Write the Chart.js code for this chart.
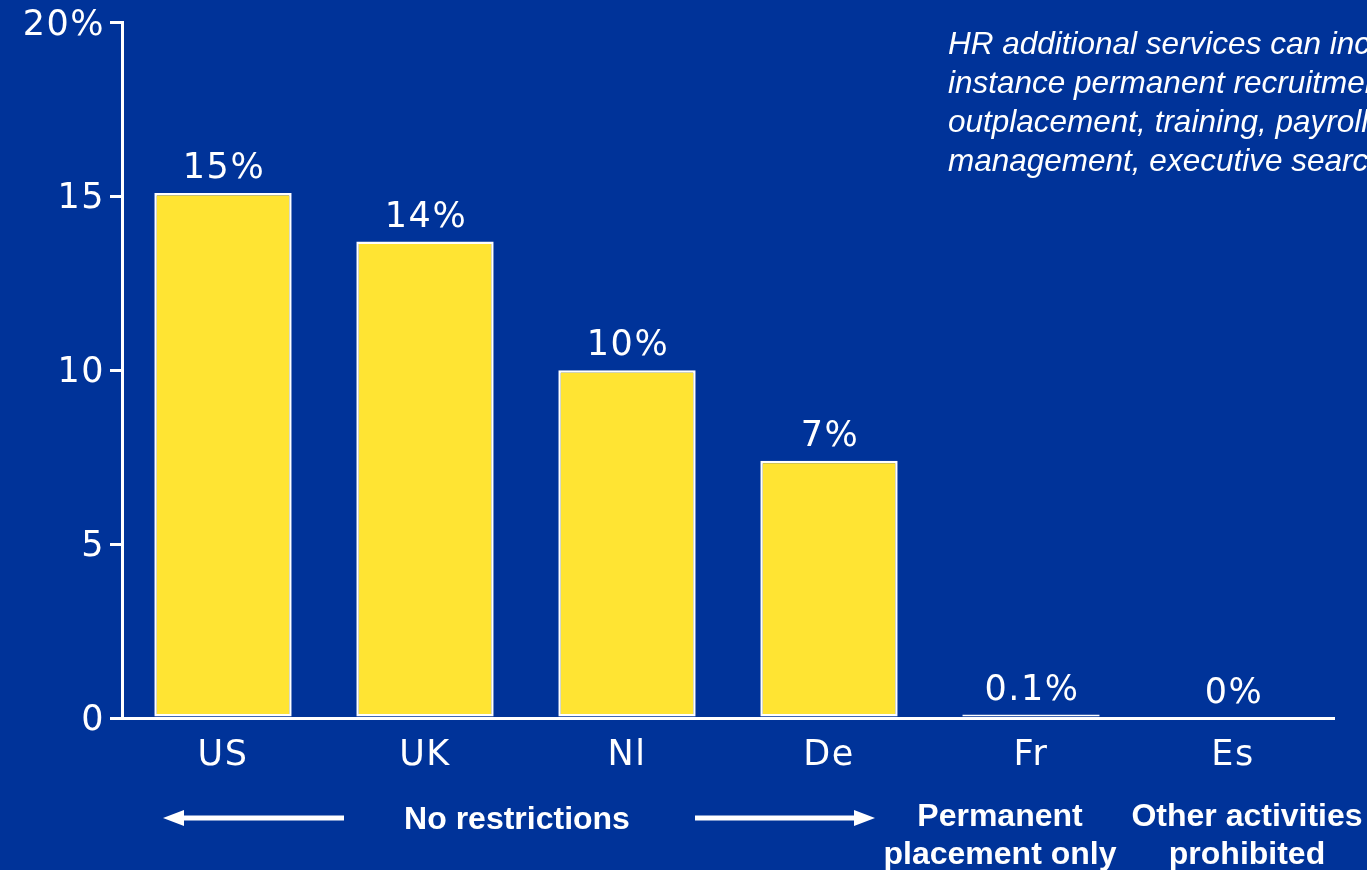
<!DOCTYPE html>
<html>
<head>
<meta charset="utf-8">
<script src="https://cdn.jsdelivr.net/npm/chart.js@4.4.1/dist/chart.umd.min.js"></script>
<style>
  html, body { margin: 0; padding: 0; background: #003399; }
  #wrap { width: 1367px; height: 870px; position: relative; }
</style>
</head>
<body>
<div id="wrap"><canvas id="c" width="1367" height="870"></canvas></div>
<script>
const categories = ["US", "UK", "Nl", "De", "Fr", "Es"];
const shareValues = [15.1, 13.7, 10.0, 7.4, 0.1, 0.0];
const valueLabels = ["15%", "14%", "10%", "7%", "0.1%", "0%"];
const yTickLabels = {0: "0", 5: "5", 10: "10", 15: "15", 20: "20%"};
const noteLines = [
  "HR additional services can include for",
  "instance permanent recruitment,",
  "outplacement, training, payroll",
  "management, executive search"
];
const groupLabels = [
  {lines: ["No restrictions"], cx: 517},
  {lines: ["Permanent", "placement only"], cx: 1000},
  {lines: ["Other activities", "prohibited"], cx: 1247}
];

const tickFont = {family: "'DejaVu Sans', sans-serif", size: 35, weight: 'normal', lineHeight: 1.0};

const spacing = {
  id: 'spacing',
  beforeDraw(chart) { chart.ctx.letterSpacing = '1.5px'; }
};

const overlay = {
  id: 'overlay',
  afterDraw(chart) {
    const ctx = chart.ctx;
    const meta = chart.getDatasetMeta(0);
    ctx.save();
    ctx.fillStyle = '#ffffff';
    // value labels
    ctx.letterSpacing = '1.5px';
    ctx.font = "35px 'DejaVu Sans', sans-serif";
    ctx.textAlign = 'center';
    ctx.textBaseline = 'alphabetic';
    meta.data.forEach((bar, i) => {
      ctx.fillText(valueLabels[i], bar.x + 1, bar.y - 15);
    });
    ctx.letterSpacing = '0px';
    // note text
    ctx.font = "italic 31.5px 'Liberation Sans', Arial, sans-serif";
    ctx.textAlign = 'left';
    ctx.textBaseline = 'middle';
    noteLines.forEach((t, i) => ctx.fillText(t, 948, 45 + i * 39));
    // group labels
    ctx.font = "bold 32px 'Liberation Sans', Arial, sans-serif";
    ctx.textAlign = 'center';
    groupLabels.forEach(g => {
      const n = g.lines.length;
      g.lines.forEach((t, i) => {
        const y = n === 1 ? 820 : 817 + i * 38;
        ctx.fillText(t, g.cx, y);
      });
    });
    // arrows
    ctx.strokeStyle = '#ffffff';
    ctx.lineWidth = 5;
    const ay = 818;
    ctx.beginPath(); ctx.moveTo(180, ay); ctx.lineTo(344, ay); ctx.stroke();
    ctx.beginPath(); ctx.moveTo(163, ay); ctx.lineTo(184, ay - 8); ctx.lineTo(184, ay + 8); ctx.closePath(); ctx.fill();
    ctx.beginPath(); ctx.moveTo(695, ay); ctx.lineTo(858, ay); ctx.stroke();
    ctx.beginPath(); ctx.moveTo(875, ay); ctx.lineTo(854, ay - 8); ctx.lineTo(854, ay + 8); ctx.closePath(); ctx.fill();
    ctx.restore();
  }
};

new Chart(document.getElementById('c'), {
  type: 'bar',
  data: {
    labels: categories,
    datasets: [{
      data: shareValues,
      backgroundColor: '#FFE433',
      borderColor: '#ffffff',
      borderWidth: 2.5,
      borderSkipped: false,
      barPercentage: 0.68,
      categoryPercentage: 1.0
    }]
  },
  options: {
    responsive: false,
    animation: false,
    events: [],
    layout: {padding: {top: 22, right: 33, left: 0, bottom: 0}},
    plugins: {legend: {display: false}, tooltip: {enabled: false}},
    scales: {
      x: {
        grid: {display: false},
        border: {display: true, color: '#ffffff', width: 3},
        ticks: {color: '#ffffff', font: tickFont, padding: 12, maxRotation: 0},
        afterFit(s) { s.height = 152; }
      },
      y: {
        min: 0, max: 20,
        grid: {drawOnChartArea: false, drawTicks: true, tickLength: 12, color: '#ffffff', lineWidth: 3},
        border: {display: true, color: '#ffffff', width: 3},
        ticks: {
          stepSize: 5, color: '#ffffff', font: tickFont, padding: 5, labelOffset: 3,
          callback: v => yTickLabels[v]
        },
        afterFit(s) { s.width = 122; }
      }
    }
  },
  plugins: [spacing, overlay]
});
</script>
</body>
</html>
